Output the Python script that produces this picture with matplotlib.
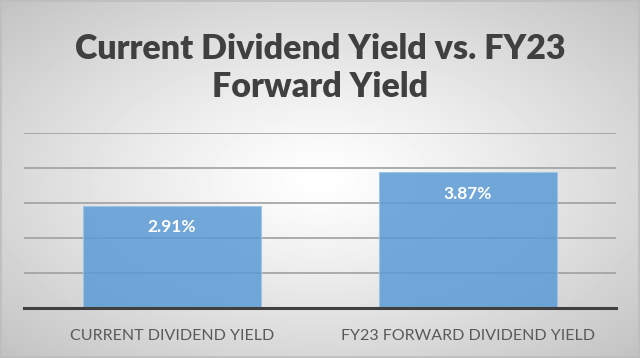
import matplotlib.pyplot as plt
import numpy as np

categories = ["CURRENT DIVIDEND YIELD", "FY23 FORWARD DIVIDEND YIELD"]
yields = [2.91, 3.87]
labels = ["2.91%", "3.87%"]
title = "Current Dividend Yield vs. FY23\nForward Yield"

fig = plt.figure(figsize=(6.4, 3.58), dpi=100)

# radial gray gradient background
bg = fig.add_axes([0, 0, 1, 1], zorder=-10)
yy, xx = np.mgrid[-1:1:358j, -1:1:640j]
r = np.sqrt(xx**2 + yy**2) / np.sqrt(2)
bg.imshow(1 - 0.24 * r**1.2, cmap="gray", vmin=0, vmax=1, aspect="auto",
          extent=[0, 1, 0, 1], interpolation="bilinear")
bg.add_patch(plt.Rectangle((0.002, 0.003), 0.996, 0.994, fill=False,
                           edgecolor="#bdbdbd", linewidth=1.2))
bg.set_xlim(0, 1)
bg.set_ylim(0, 1)
bg.axis("off")

ax = fig.add_axes([0.0375, 0.1397, 0.925, 0.489])
ax.patch.set_alpha(0)
x = np.arange(len(categories))
ax.bar(x, yields, width=0.6, color="#5b9bd5", alpha=0.85,
       edgecolor="#9cc3e6", linewidth=0.8, zorder=3)
for xi, v, lab in zip(x, yields, labels):
    ax.text(xi, v - 0.38, lab, ha="center", va="top", color="white",
            fontsize=12.5, fontweight="bold", family="Lato", zorder=4)

ax.set_xlim(-0.5, 1.5)
ax.set_ylim(0, 5)
ax.set_yticks([1, 2, 3, 4, 5])
ax.yaxis.grid(True, color="#a0a0a0", linewidth=1.2, zorder=0)
ax.tick_params(axis="y", length=0, labelleft=False)
ax.tick_params(axis="x", length=0, pad=15)
ax.set_xticks(x)
ax.set_xticklabels(categories, fontsize=11.5, color="#595959", family="Lato")
for s in ["top", "right", "left"]:
    ax.spines[s].set_visible(False)
ax.spines["bottom"].set_color("#404040")
ax.spines["bottom"].set_linewidth(2.2)
ax.spines["bottom"].set_zorder(5)

fig.text(0.5, 0.81, title, ha="center", va="center", fontsize=24.5,
         fontweight="heavy", color="#404040", family="Lato", linespacing=1.2)

fig.savefig("out.png", dpi=100)
